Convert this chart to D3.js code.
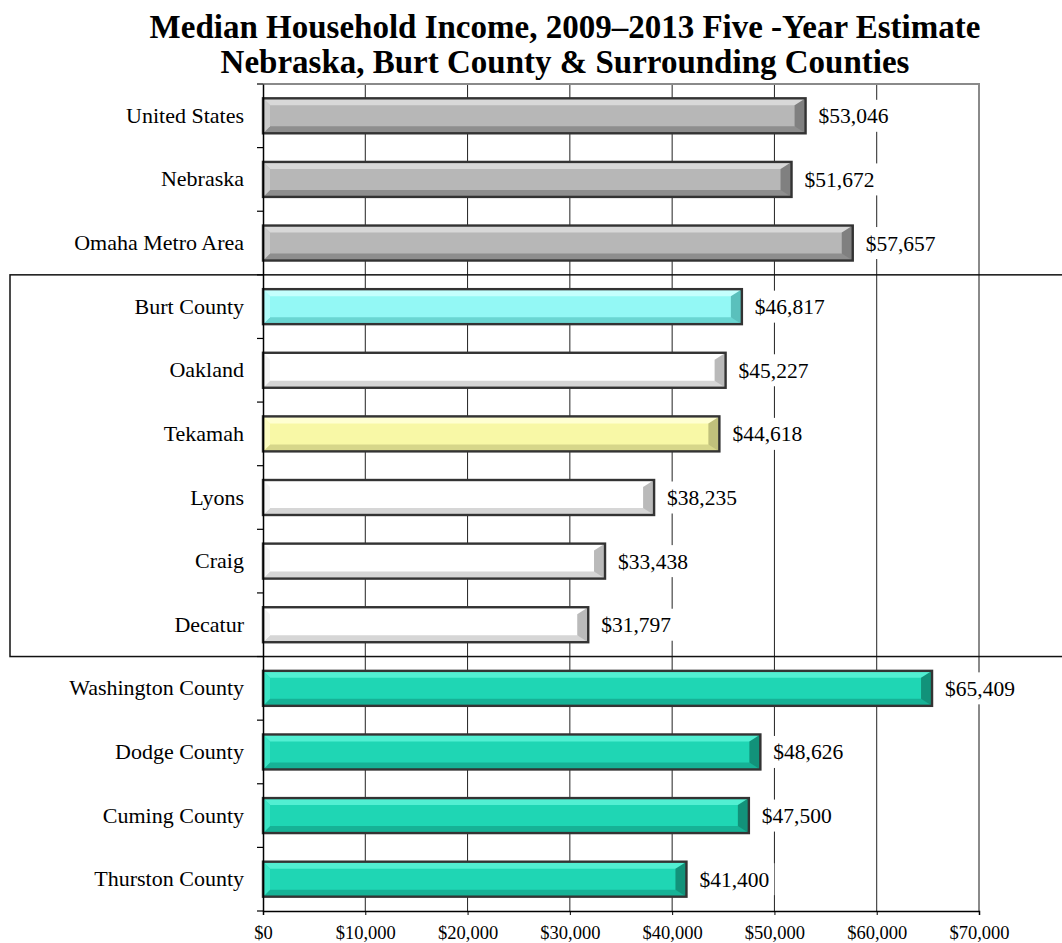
<!DOCTYPE html>
<html>
<head>
<meta charset="utf-8">
<script src="https://cdn.jsdelivr.net/npm/d3@7"></script>
<style>
  html, body { margin: 0; padding: 0; background: #fff; }
  svg { display: block; }
  text { font-family: "Liberation Serif", "Times New Roman", serif; fill: #000; }
</style>
</head>
<body>
<div id="chart"></div>
<script>
// ---- data ----
const categories = ["United States", "Nebraska", "Omaha Metro Area", "Burt County", "Oakland", "Tekamah",
  "Lyons", "Craig", "Decatur", "Washington County", "Dodge County", "Cuming County", "Thurston County"];
const incomes = [53046, 51672, 57657, 46817, 45227, 44618, 38235, 33438, 31797, 65409, 48626, 47500, 41400];
const groups = ["ref", "ref", "ref", "county", "town", "seat", "town", "town", "town", "near", "near", "near", "near"];
const xTicks = [0, 10000, 20000, 30000, 40000, 50000, 60000, 70000];
const titleLines = ["Median Household Income, 2009\u20132013 Five -Year Estimate",
  "Nebraska, Burt County & Surrounding Counties"];

// ---- styles ----
const palette = {
  ref:    { body: "#b7b7b7", top: "#d8d8d8", bottom: "#8e8e8e", right: "#808080", left: "#cacaca" },
  county: { body: "#93f8f5", top: "#c4fffd", bottom: "#6ad6d2", right: "#5ac0bc", left: "#b0fcfa" },
  town:   { body: "#ffffff", top: "#ffffff", bottom: "#d6d6d6", right: "#bababa", left: "#f4f4f4" },
  seat:   { body: "#f8f8a6", top: "#ffffd2", bottom: "#d6d68a", right: "#c0c07c", left: "#fcfcc0" },
  near:   { body: "#1fd6b4", top: "#52efd2", bottom: "#16b296", right: "#12927a", left: "#3ae4c4" }
};

const W = 1062, H = 943;
const plot = { left: 263, right: 979, top: 84, bottom: 911 };

const svg = d3.select("#chart").append("svg").attr("width", W).attr("height", H);
svg.append("rect").attr("width", W).attr("height", H).attr("fill", "#fff");

const x = d3.scaleLinear().domain([0, 70000]).range([plot.left, plot.right]);
const y = d3.scaleBand().domain(categories).range([plot.top, plot.bottom]).paddingInner(0.45).paddingOuter(0.225);

// Title
svg.append("g").selectAll("text").data(titleLines).join("text")
  .attr("x", 565).attr("y", (d, i) => 38 + i * 35)
  .attr("text-anchor", "middle").attr("font-size", 33).attr("font-weight", "bold")
  .text(d => d);

// Gridlines
svg.append("g").selectAll("line").data(xTicks.slice(1, -1)).join("line")
  .attr("x1", d => x(d)).attr("x2", d => x(d))
  .attr("y1", plot.top).attr("y2", plot.bottom)
  .attr("stroke", "#222").attr("stroke-width", 1);

// Plot border (top/right) gray
svg.append("path")
  .attr("d", `M${plot.left},${plot.top}H${plot.right}V${plot.bottom}`)
  .attr("fill", "none").attr("stroke", "#8a8a8a").attr("stroke-width", 2);

// Box around Burt County group
const boxTop = y("Burt County") - (y.step() - y.bandwidth()) / 2;
const boxBottom = y("Decatur") + y.bandwidth() + (y.step() - y.bandwidth()) / 2;
svg.append("rect")
  .attr("x", 10).attr("y", boxTop).attr("width", W + 20).attr("height", boxBottom - boxTop)
  .attr("fill", "none").attr("stroke", "#111").attr("stroke-width", 1.5);

// Bars with bevel
const b = 7;
const bars = svg.append("g").selectAll("g").data(categories).join("g");
bars.each(function(d, i) {
  const g = d3.select(this);
  const c = palette[groups[i]];
  const x0 = x(0), x1 = x(incomes[i]), y0 = y(d), y1 = y(d) + y.bandwidth();
  g.append("rect").attr("x", x0).attr("y", y0).attr("width", x1 - x0).attr("height", y1 - y0).attr("fill", c.body);
  g.append("polygon").attr("points", [[x0, y0], [x1, y0], [x1 - b, y0 + b], [x0 + b, y0 + b]].join(" ")).attr("fill", c.top);
  g.append("polygon").attr("points", [[x0, y1], [x1, y1], [x1 - b, y1 - b], [x0 + b, y1 - b]].join(" ")).attr("fill", c.bottom);
  g.append("polygon").attr("points", [[x1, y0], [x1, y1], [x1 - b - 4, y1 - b], [x1 - b - 4, y0 + b]].join(" ")).attr("fill", c.right);
  g.append("polygon").attr("points", [[x0, y0], [x0, y1], [x0 + b, y1 - b], [x0 + b, y0 + b]].join(" ")).attr("fill", c.left);
  g.append("rect").attr("x", x0).attr("y", y0).attr("width", x1 - x0).attr("height", y1 - y0)
    .attr("fill", "none").attr("stroke", "#333").attr("stroke-width", 2.4);
});

// Axes
const yAxis = d3.axisLeft(y).tickSize(0).tickPadding(19);
const gy = svg.append("g").attr("transform", `translate(${plot.left},0)`).call(yAxis);
gy.select(".domain").attr("stroke", "#000").attr("stroke-width", 1.5);
gy.selectAll(".tick text").attr("font-size", 22).attr("font-family", "Liberation Serif").attr("fill", "#000");
// category boundary ticks
const bounds = d3.range(categories.length + 1).map(k => plot.top + k * y.step());
svg.append("g").selectAll("line").data(bounds).join("line")
  .attr("x1", plot.left - 6).attr("x2", plot.left).attr("y1", d => d).attr("y2", d => d)
  .attr("stroke", "#000").attr("stroke-width", 1.2);

const xAxis = d3.axisBottom(x).tickValues(xTicks).tickSize(4).tickPadding(11)
  .tickFormat(d => "$" + d3.format(",")(d));
const gx = svg.append("g").attr("transform", `translate(0,${plot.bottom})`).call(xAxis);
gx.select(".domain").attr("stroke", "#000").attr("stroke-width", 1.5);
gx.selectAll(".tick line").attr("stroke", "#000");
gx.selectAll(".tick text").attr("font-size", 18.5).attr("font-family", "Liberation Serif").attr("fill", "#000");

// Value labels with white background
const fmt = d => "$" + d3.format(",")(d);
const labels = svg.append("g").selectAll("g").data(categories).join("g");
labels.each(function(d, i) {
  const g = d3.select(this);
  const tx = x(incomes[i]) + 13;
  const cy = y(d) + y.bandwidth() / 2;
  const bg = g.append("rect").attr("fill", "#fff");
  const t = g.append("text").attr("x", tx).attr("y", cy).attr("dy", "0.35em")
    .attr("font-size", 21.5).text(fmt(incomes[i]));
  const bb = t.node().getBBox();
  bg.attr("x", bb.x - 5).attr("y", cy - 16).attr("width", bb.width + 10).attr("height", 32);
});
</script>
</body>
</html>
